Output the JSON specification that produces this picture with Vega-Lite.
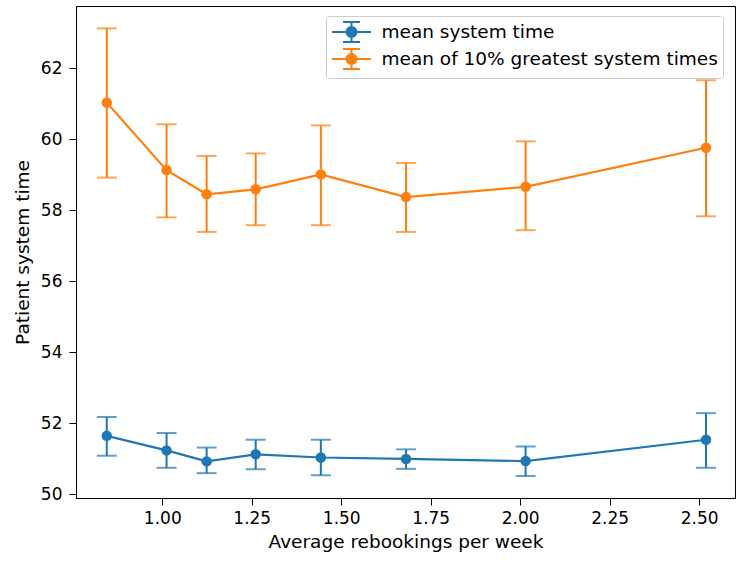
{
  "$schema": "https://vega.github.io/schema/vega-lite/v6.json",
  "width": 659,
  "height": 492,
  "autosize": {"type": "none"},
  "padding": {"left": 76, "top": 6, "right": 4, "bottom": 64},
  "background": "white",
  "config": {
    "view": {"stroke": "#000", "strokeWidth": 1},
    "font": "DejaVu Sans",
    "axis": {
      "grid": false,
      "domainColor": "#000",
      "tickColor": "#000",
      "tickSize": 7,
      "labelColor": "#000",
      "labelFontSize": 17,
      "labelFont": "DejaVu Sans",
      "titleFont": "DejaVu Sans",
      "titleFontSize": 18.5,
      "titleFontWeight": "normal",
      "titleColor": "#000"
    }
  },
  "data": {
    "values": [
      {"rebook": 0.845, "series": "mean system time", "mean": 51.65, "lo": 51.09, "hi": 52.18},
      {"rebook": 1.012, "series": "mean system time", "mean": 51.24, "lo": 50.75, "hi": 51.73},
      {"rebook": 1.124, "series": "mean system time", "mean": 50.93, "lo": 50.60, "hi": 51.32},
      {"rebook": 1.261, "series": "mean system time", "mean": 51.13, "lo": 50.71, "hi": 51.54},
      {"rebook": 1.443, "series": "mean system time", "mean": 51.04, "lo": 50.54, "hi": 51.54},
      {"rebook": 1.681, "series": "mean system time", "mean": 51.00, "lo": 50.72, "hi": 51.27},
      {"rebook": 2.015, "series": "mean system time", "mean": 50.94, "lo": 50.52, "hi": 51.35},
      {"rebook": 2.519, "series": "mean system time", "mean": 51.54, "lo": 50.75, "hi": 52.29},
      {"rebook": 0.845, "series": "mean of 10% greatest system times", "mean": 61.03, "lo": 58.92, "hi": 63.12},
      {"rebook": 1.012, "series": "mean of 10% greatest system times", "mean": 59.13, "lo": 57.80, "hi": 60.42},
      {"rebook": 1.124, "series": "mean of 10% greatest system times", "mean": 58.45, "lo": 57.39, "hi": 59.53},
      {"rebook": 1.261, "series": "mean of 10% greatest system times", "mean": 58.59, "lo": 57.58, "hi": 59.60},
      {"rebook": 1.443, "series": "mean of 10% greatest system times", "mean": 59.01, "lo": 57.58, "hi": 60.39},
      {"rebook": 1.681, "series": "mean of 10% greatest system times", "mean": 58.37, "lo": 57.39, "hi": 59.33},
      {"rebook": 2.015, "series": "mean of 10% greatest system times", "mean": 58.66, "lo": 57.44, "hi": 59.94},
      {"rebook": 2.519, "series": "mean of 10% greatest system times", "mean": 59.76, "lo": 57.83, "hi": 61.66}
    ]
  },
  "encoding": {
    "x": {
      "field": "rebook",
      "type": "quantitative",
      "scale": {"domain": [0.759, 2.6], "nice": false, "zero": false},
      "axis": {
        "title": "Average rebookings per week",
        "values": [1, 1.25, 1.5, 1.75, 2, 2.25, 2.5],
        "format": ".2f",
        "labelPadding": 5.5,
        "titlePadding": 6
      }
    },
    "color": {
      "field": "series",
      "type": "nominal",
      "scale": {
        "domain": ["mean system time", "mean of 10% greatest system times"],
        "range": ["#1f77b4", "#ff7f0e"]
      },
      "legend": {
        "title": null,
        "orient": "none",
        "legendX": 250,
        "legendY": 10,
        "direction": "vertical",
        "fillColor": "rgba(255,255,255,0.8)",
        "strokeColor": "#cccccc",
        "cornerRadius": 3,
        "padding": 5,
        "rowPadding": -1,
        "symbolType": "M-1.95,0H1.95M0,-1V1M-0.85,-1H0.85M-0.85,1H0.85M-0.5,0A0.5,0.5,0,1,0,0.5,0A0.5,0.5,0,1,0,-0.5,0Z",
        "symbolSize": 400,
        "symbolStrokeWidth": 2,
        "symbolOpacity": 1,
        "symbolOffset": 9.5,
        "labelOffset": 19,
        "labelFontSize": 18.5,
        "labelFont": "DejaVu Sans",
        "labelColor": "#000",
        "labelLimit": 400
      }
    }
  },
  "layer": [
    {
      "mark": {"type": "rule", "strokeWidth": 2},
      "encoding": {
        "y": {
          "field": "lo",
          "type": "quantitative",
          "scale": {"domain": [49.9, 63.75], "nice": false, "zero": false},
          "axis": {
            "title": "Patient system time",
            "values": [50, 52, 54, 56, 58, 60, 62],
            "labelPadding": 7,
            "titlePadding": 7.5
          }
        },
        "y2": {"field": "hi"}
      }
    },
    {
      "mark": {"type": "tick", "orient": "horizontal", "size": 20, "thickness": 2},
      "encoding": {"y": {"field": "lo", "type": "quantitative"}}
    },
    {
      "mark": {"type": "tick", "orient": "horizontal", "size": 20, "thickness": 2},
      "encoding": {"y": {"field": "hi", "type": "quantitative"}}
    },
    {
      "mark": {"type": "line", "strokeWidth": 2.2},
      "encoding": {"y": {"field": "mean", "type": "quantitative"}}
    },
    {
      "mark": {"type": "point", "filled": true, "opacity": 1, "size": 110},
      "encoding": {"y": {"field": "mean", "type": "quantitative"}}
    }
  ]
}
